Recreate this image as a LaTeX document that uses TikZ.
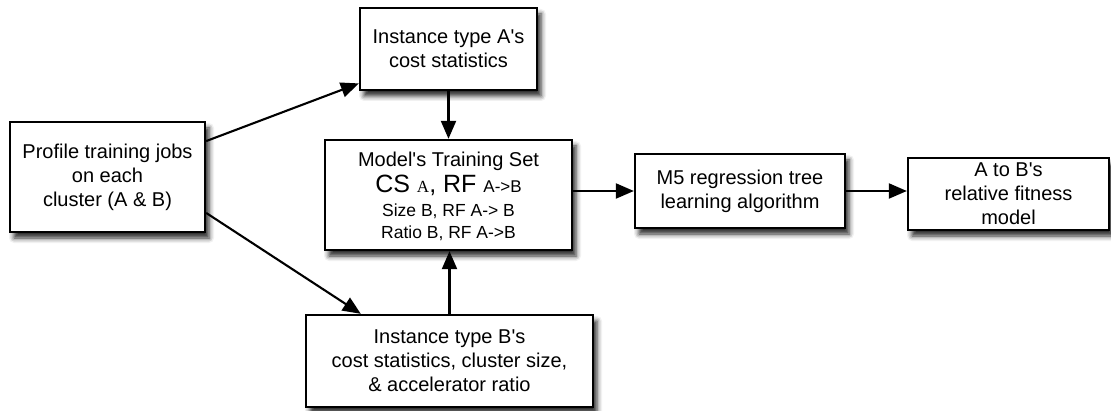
\documentclass[tikz,border=0pt]{standalone}
\usepackage{fontspec}
\setmainfont{Liberation Sans}[Ligatures=TeXOff]
\newfontfamily\serifA{Liberation Serif}
\usetikzlibrary{arrows.meta,shadows.blur}

\tikzset{
  box/.style={draw=black, line width=2.3pt, fill=white, inner sep=0pt,
    align=center, font=\fontsize{20}{24}\selectfont,
    blur shadow={shadow xshift=4pt, shadow yshift=-6pt,
      shadow blur radius=5pt, shadow opacity=85}},
  arr/.style={line width=2.1pt, -{Triangle[length=18pt,width=15pt]}},
  txt/.style={anchor=base, inner sep=0pt, font=\fontsize{20}{24}\selectfont}
}

\begin{document}
\begin{tikzpicture}[x=1pt, y=-1pt]
\useasboundingbox (0,0) rectangle (1111,411);

% processing stages
\node[box, minimum width=195pt, minimum height=110pt] (prof) at (107.5,177)
  {Profile training jobs\\on each\\cluster (A \& B)};
\node[box, minimum width=177pt, minimum height=82pt] (atype) at (448.5,49)
  {Instance type A's\\cost statistics};
\node[box, minimum width=247pt, minimum height=110pt] (train) at (448.5,195) {};
\node[box, minimum width=287pt, minimum height=92pt] (btype) at (449.5,361)
  {Instance type B's\\cost statistics, cluster size,\\\& accelerator ratio};
\node[box, minimum width=210pt, minimum height=74pt] (m5) at (740,191)
  {M5 regression tree\\learning algorithm};
\node[box, minimum width=201pt, minimum height=72pt] (fit) at (1008.5,194)
  {A to B's\\relative fitness\\model};

% contents of the training set
\node[txt] (t1) at (448.5,167) {Model's Training Set};
\node[txt] (t2) at (448.5,193)
  {\fontsize{25}{28}\selectfont CS {\serifA\fontsize{17}{18}\selectfont A}, RF {\fontsize{17}{18}\selectfont A->B}};
\node[txt] (t3) at (448.5,217) {\fontsize{17.5}{20}\selectfont Size B, RF A-> B};
\node[txt] (t4) at (448.5,239) {\fontsize{17.5}{20}\selectfont Ratio B, RF A->B};

% flow
\draw[arr] (prof.20.8) -- (atype.201);
\draw[arr] (prof.-20.3) -- (btype.152.3);
\draw[arr] (atype.south) -- (train.north);
\draw[arr] (btype.north) -- (btype.north |- train.south);
\draw[arr] (m5.west -| train.east) -- (m5.west);
\draw[arr] (m5.east) -- (m5.east -| fit.west);
\end{tikzpicture}
\end{document}
